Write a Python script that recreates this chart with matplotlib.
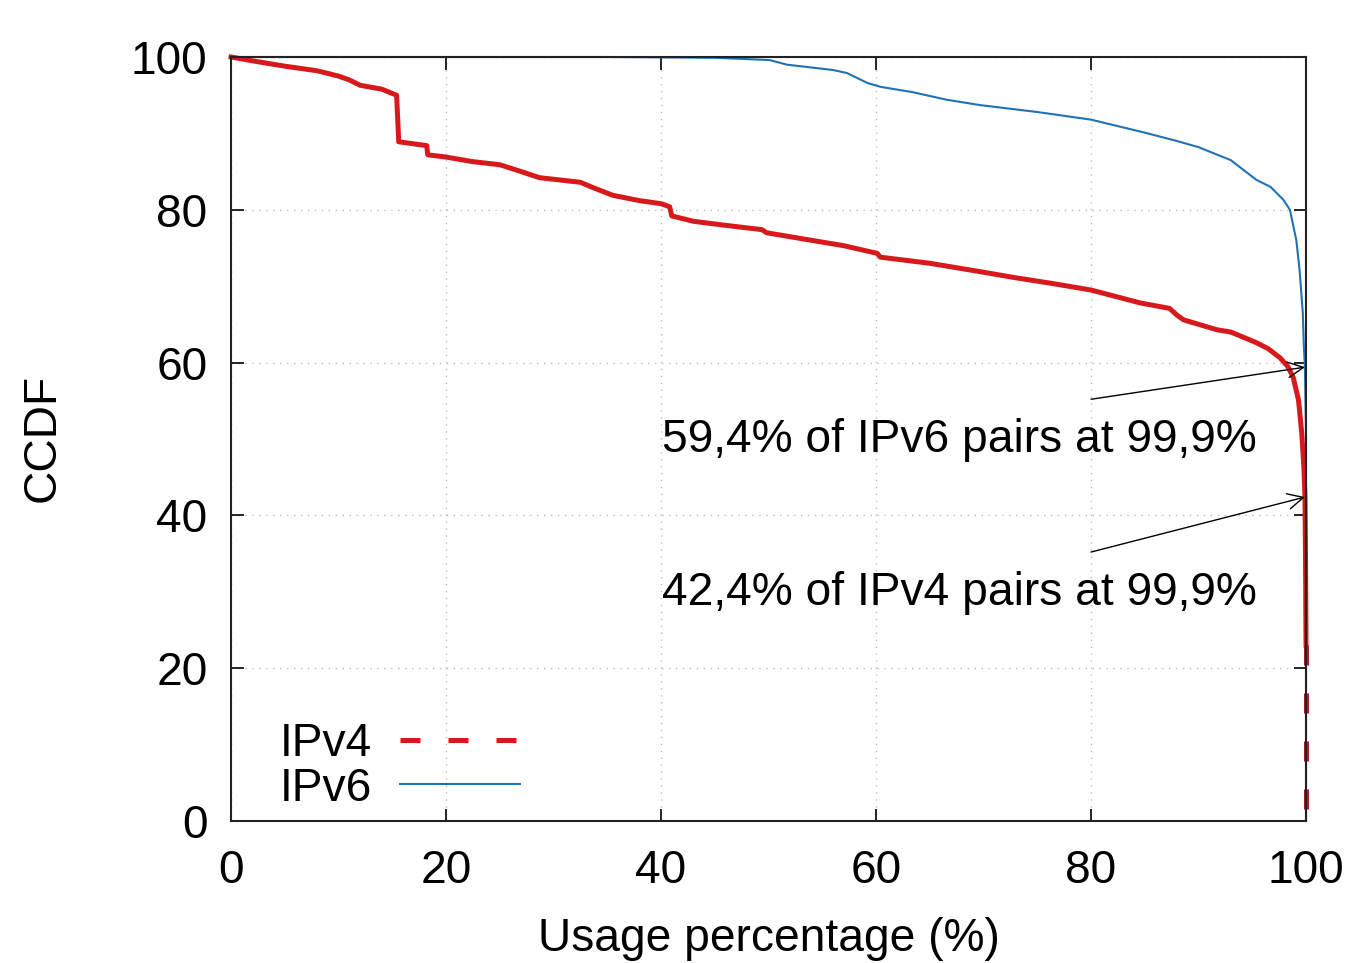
import numpy as np
import matplotlib.pyplot as plt
from matplotlib.lines import Line2D

plt.rcParams['font.family'] = ['Liberation Sans', 'DejaVu Sans']
plt.rcParams['font.size'] = 33.2

# CCDF IPv4
ipv4_x = [0, 2, 5, 8, 10, 11, 12, 14, 15.4, 15.6, 18.2, 18.3, 20, 22.5, 25, 27,
          28.7, 30, 32.5, 33.5, 35.5, 38, 40, 40.8, 41.0, 43, 45.8, 49.4, 49.8,
          53.6, 57, 60.1, 60.4, 65, 69.7, 73, 76.2, 80, 84.6, 87.3, 88.0, 88.6,
          91.7, 93, 95.4, 96.5, 97.6, 98.3, 98.8, 99.3, 99.6, 99.8, 99.9, 99.95, 100]
ipv4_y = [100, 99.5, 98.8, 98.2, 97.5, 97.0, 96.3, 95.8, 95.0, 88.9, 88.4, 87.2, 86.9,
          86.3, 85.9, 85.0, 84.2, 84.0, 83.6, 83.0, 81.9, 81.2, 80.8, 80.4, 79.2,
          78.5, 78.0, 77.4, 77.0, 76.1, 75.3, 74.3, 73.8, 73.0, 71.9, 71.1, 70.4,
          69.5, 67.8, 67.1, 66.2, 65.6, 64.3, 64.0, 62.6, 61.8, 60.6, 59.5, 58.1,
          55.1, 50.8, 46.3, 42.4, 35, 23]
# tramo final en x=100
ipv4_tail_x = [100, 100]
ipv4_tail_y = [23, 0]

# CCDF IPv6
ipv6_x = [0, 35, 45, 50.1, 51.7, 56, 57.3, 59.2, 60.4, 63.4, 66.6, 69.7, 75, 80,
          85, 88, 90, 93, 95.4, 96.7, 97.9, 98.5, 99.1, 99.4, 99.7, 99.8, 99.9,
          100, 100]
ipv6_y = [100, 100, 99.9, 99.6, 99.0, 98.3, 97.9, 96.6, 96.1, 95.4, 94.4, 93.7,
          92.8, 91.8, 90.1, 89.0, 88.2, 86.5, 83.9, 83.0, 81.3, 80.0, 76.0, 72.1,
          66.5, 62.0, 59.4, 50, 0]

red = '#d7191c'
blue = '#2171b5'

fig = plt.figure(figsize=(13.52, 9.63), dpi=100)
ax = fig.add_axes([0.1709, 0.1475, 0.7951, 0.7933])

ax.plot(ipv6_x, ipv6_y, color=blue, lw=1.5, clip_on=False, zorder=3)
ax.plot(ipv4_x, ipv4_y, color=red, lw=3.6, clip_on=False, zorder=4,
        solid_joinstyle='round')
ax.plot(ipv4_tail_x, ipv4_tail_y, color='#b01828', lw=3.6, clip_on=False, zorder=4,
        dashes=(4, 5.6))

ax.set_xlim(0, 100)
ax.set_ylim(0, 100)
ax.set_xticks([0, 20, 40, 60, 80, 100])
ax.set_yticks([0, 20, 40, 60, 80, 100])
ax.tick_params(direction='in', length=9, width=1.2, top=True, right=True,
               labelsize=33.2)
ax.tick_params(axis='x', pad=20)
ax.tick_params(axis='y', pad=17)
ax.grid(True, color='#bbbbbb', linestyle=(0, (1, 4)), lw=1)
for s in ax.spines.values():
    s.set_linewidth(1.5)
    s.set_color('#222222')
    s.set_zorder(6)

ax.set_xlabel('Usage percentage (%)')
ax.set_ylabel('CCDF')
ax.xaxis.set_label_coords(0.5, -0.126)
ax.yaxis.set_label_coords(-0.155, 0.501)

# anotaciones
ax.annotate('', xy=(99.9, 59.4), xytext=(80, 55.2),
            arrowprops=dict(arrowstyle='->', lw=1, color='black', mutation_scale=28,
                            shrinkA=0, shrinkB=0), zorder=7)
ax.text(40.1, 49.9, '59,4% of IPv6 pairs at 99,9%', va='center', ha='left')
ax.annotate('', xy=(99.9, 42.4), xytext=(80, 35.2),
            arrowprops=dict(arrowstyle='->', lw=1, color='black', mutation_scale=28,
                            shrinkA=0, shrinkB=0), zorder=7)
ax.text(40.1, 29.9, '42,4% of IPv4 pairs at 99,9%', va='center', ha='left')

handles = [Line2D([], [], color=red, lw=3.6, dashes=(4, 5.6)),
           Line2D([], [], color=blue, lw=1.5)]
ax.legend(handles, ['IPv4', 'IPv6'], loc='upper left', bbox_to_anchor=(0.0456, 0.130),
          frameon=False, markerfirst=False, handlelength=2.6, handletextpad=0.6,
          labelspacing=0.02, borderpad=0, borderaxespad=0, fontsize=33.2)

fig.savefig('out.png', dpi=100)
